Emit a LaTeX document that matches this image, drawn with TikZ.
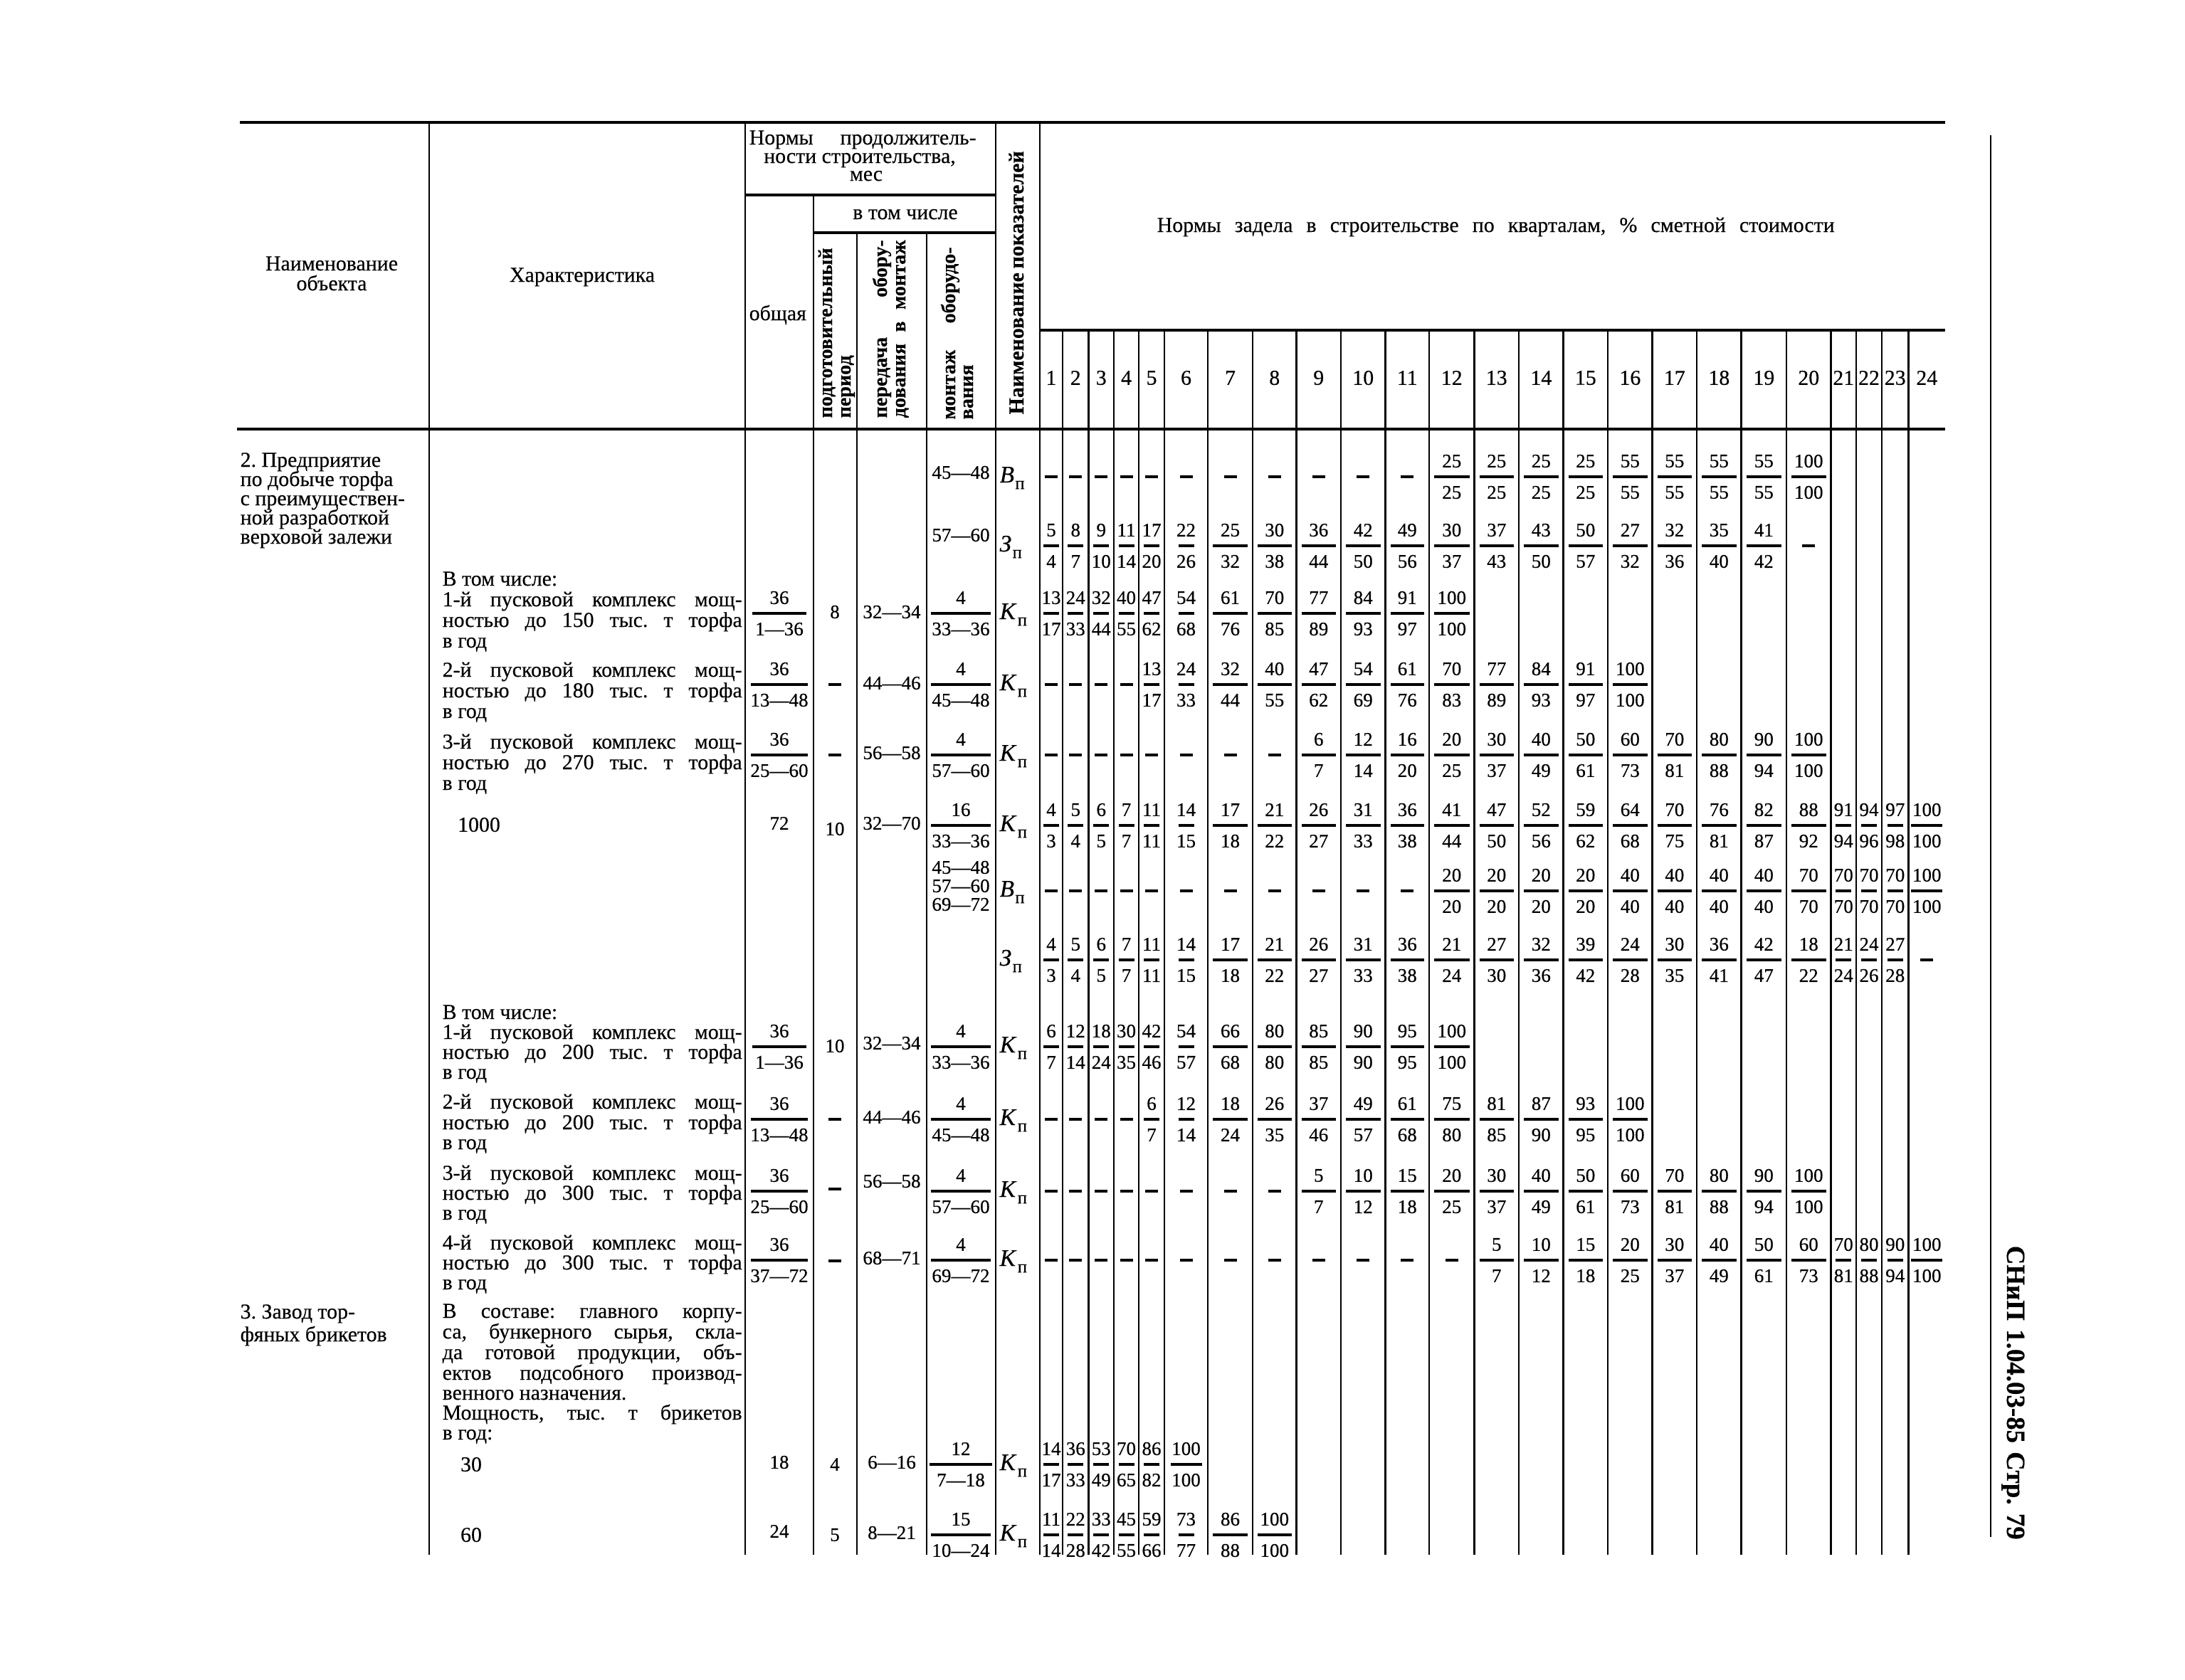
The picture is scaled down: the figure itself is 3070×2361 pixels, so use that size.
\documentclass[tikz,border=0pt]{standalone}
\usepackage{fontspec}
\setmainfont{Liberation Serif}[FakeBold=0.35]
\frenchspacing
\def\qb{{1461,1493,1529.5,1565,1600,1636,1697,1760,1821.5,1884,1946.5,2008,2071.5,2134,2196.6,2259,2321.6,2384,2446.6,2510,2572.5,2608,2644,2681.5,2733}}
\def\dm{-}
\newcommand\drow[3]{%
  \foreach \numv/\denv [count=\cc] in {#3} {%
    \pgfmathsetmacro\xl{\qb[\cc-1]}%
    \pgfmathsetmacro\xr{\qb[\cc]}%
    \pgfmathsetmacro\xm{(\xl+\xr)/2}%
    \pgfmathsetmacro\bw{ifthenelse(\cc<7 || (\cc>20 && \cc<24), 22, \xr-\xl-14)}%
    \ifx\numv\dm
      \draw[fbar] (\xm-9,#2) -- (\xm+9,#2);
    \else
      \pgfmathsetmacro\bw{max(\bw,ifthenelse(\numv==100,44,0))}%
      \node[num] (#1n\cc) at (\xm,#2-22) {\numv};
      \node[num] (#1d\cc) at (\xm,#2+22) {\denv};
      \draw[fbar] (\xm-\bw/2,#2) -- (\xm+\bw/2,#2);
    \fi
  }%
}
\newcommand\lfrac[6]{%
  \node[num] (#1n) at (#2,#3-22) {#4};
  \node[num] (#1d) at (#2,#3+22) {#5};
  \draw[fbar] (#2-#6,#3) -- (#2+#6,#3);
}
\newcommand\jl[5]{\node[txt] (#1) at (#2,#3) {\makebox[#4][s]{#5}};}
\newcommand\lab[3]{\node[inner sep=0pt,anchor=base west,font=\fontsize{9.5}{10}\selectfont] (#1) at (1404,#3+8) {\textit{#2}\kern0.4pt\raisebox{-0.6ex}{\fontsize{7}{8}\selectfont п}};}
\newcommand\pdash[2]{\draw[fbar] (1164,#2) -- (1182,#2);}
\begin{document}
\begin{tikzpicture}[x=0.1mm,y=-0.1mm,
  thickline/.style={line width=0.45mm},
  hline/.style={line width=0.32mm},
  vline/.style={line width=0.28mm},
  fbar/.style={line width=0.32mm},
  num/.style={inner sep=0pt,font=\fontsize{7.7}{8}\selectfont},
  hnum/.style={inner sep=0pt,font=\fontsize{8.5}{9}\selectfont},
  txt/.style={inner sep=0pt,anchor=base west,font=\fontsize{8.5}{9}\selectfont},
  ctxt/.style={inner sep=0pt,anchor=base,font=\fontsize{8.5}{9}\selectfont},
  rot/.style={inner sep=0pt,anchor=base west,rotate=90,font=\bfseries\fontsize{8}{9}\selectfont},
]
\fill[white] (0,0) rectangle (3070,2361);
\useasboundingbox (0,0) rectangle (3070,2361);

% ---------- rules ----------
\draw[thickline] (337,172) -- (2733,172);
\draw[hline] (1047,274) -- (1399,274);
\draw[hline] (1143,327) -- (1399,327);
\draw[hline] (1461,464) -- (2733,464);
\draw[thickline] (333,603) -- (2733,603);
\foreach \xx/\yy in {603/172, 1047/172, 1143/274, 1204/327, 1302/327, 1399/172, 1461/172}
  \draw[vline] (\xx,\yy) -- (\xx,2185);
\foreach \kk in {1,...,23} {
  \pgfmathsetmacro\xx{\qb[\kk]}
  \draw[vline] (\xx,464) -- (\xx,2185);
}
\draw[line width=0.25mm] (2797,190) -- (2797,2160);

% ---------- header ----------
\node[ctxt] (h1a) at (466,380) {Наименование};
\node[ctxt] (h1b) at (466,408) {объекта};
\node[ctxt] (h2) at (818,396) {Характеристика};
\jl{h3a}{1052}{203}{31.9mm}{Нормы продолжитель-}
\node[ctxt] (h3b) at (1208,229) {ности строительства,};
\node[ctxt] (h3c) at (1217,254) {мес};
\node[ctxt] (h4) at (1272,308) {в том числе};
\node[txt] (h5) at (1052,450) {общая};
\node[rot] (r1) at (1169,588) {подготовительный};
\node[rot] (r2) at (1195,588) {период};
\node[rot] (r3) at (1246,588) {\makebox[25mm][s]{передача обору-}};
\node[rot] (r4) at (1272,588) {\makebox[25mm][s]{дования в монтаж}};
\node[rot] (r5) at (1342,590) {\makebox[24.2mm][s]{монтаж оборудо-}};
\node[rot] (r6) at (1367,590) {вания};
\node[rot,font=\bfseries\fontsize{8.5}{9}\selectfont] (r7) at (1438,583) {\makebox[37mm][s]{Наименование показателей}};
\jl{h9}{1625}{326}{95.2mm}{Нормы задела в строительстве по кварталам, \% сметной стоимости}
\foreach \qq in {1,...,24} {
  \pgfmathsetmacro\xl{\qb[\qq-1]}
  \pgfmathsetmacro\xr{\qb[\qq]}
  \node[hnum] (q\qq) at ({(\xl+\xr)/2},531) {\qq};
}

% ---------- left texts ----------
\node[txt] (s2a) at (337,656) {2. Предприятие};
\node[txt] (s2b) at (337,683) {по добыче торфа};
\node[txt] (s2c) at (337,710) {с преимуществен-};
\node[txt] (s2d) at (337,737) {ной разработкой};
\node[txt] (s2e) at (337,764) {верховой залежи};

\node[txt] (t3a) at (621,823) {В том числе:};
\jl{t3b}{621}{852}{42.1mm}{1-й пусковой комплекс мощ-}
\jl{t3c}{621}{881}{42.1mm}{ностью до 150 тыс. т торфа}
\node[txt] (t3d) at (621,910) {в год};
\jl{t4a}{621}{951}{42.1mm}{2-й пусковой комплекс мощ-}
\jl{t4b}{621}{980}{42.1mm}{ностью до 180 тыс. т торфа}
\node[txt] (t4c) at (621,1009) {в год};
\jl{t5a}{621}{1052}{42.1mm}{3-й пусковой комплекс мощ-}
\jl{t5b}{621}{1081}{42.1mm}{ностью до 270 тыс. т торфа}
\node[txt] (t5c) at (621,1110) {в год};
\node[hnum] (t6) at (673,1159) {1000};
\node[txt] (t9a) at (621,1432) {В том числе:};
\jl{t9b}{621}{1460}{42.1mm}{1-й пусковой комплекс мощ-}
\jl{t9c}{621}{1488}{42.1mm}{ностью до 200 тыс. т торфа}
\node[txt] (t9d) at (621,1516) {в год};
\jl{t10a}{621}{1558}{42.1mm}{2-й пусковой комплекс мощ-}
\jl{t10b}{621}{1587}{42.1mm}{ностью до 200 тыс. т торфа}
\node[txt] (t10c) at (621,1615) {в год};
\jl{t11a}{621}{1658}{42.1mm}{3-й пусковой комплекс мощ-}
\jl{t11b}{621}{1686}{42.1mm}{ностью до 300 тыс. т торфа}
\node[txt] (t11c) at (621,1714) {в год};
\jl{t12a}{621}{1756}{42.1mm}{4-й пусковой комплекс мощ-}
\jl{t12b}{621}{1784}{42.1mm}{ностью до 300 тыс. т торфа}
\node[txt] (t12c) at (621,1812) {в год};

\node[txt] (s3a) at (337,1853) {3.\ Завод тор-};
\node[txt] (s3b) at (337,1885) {фяных брикетов};
\jl{t13a}{621}{1852}{42.1mm}{В составе: главного корпу-}
\jl{t13b}{621}{1881}{42.1mm}{са, бункерного сырья, скла-}
\jl{t13c}{621}{1910}{42.1mm}{да готовой продукции, объ-}
\jl{t13d}{621}{1939}{42.1mm}{ектов подсобного производ-}
\node[txt] (t13e) at (621,1967) {венного назначения.};
\jl{t13f}{621}{1995}{42.1mm}{Мощность, тыс. т брикетов}
\node[txt] (t13g) at (621,2023) {в год:};
\node[hnum] (t13) at (662,2058) {30};
\node[hnum] (t14) at (662,2157) {60};

% ---------- duration columns ----------
\node[num] (m1) at (1350,664) {45—48};
\node[num] (m2) at (1350,752) {57—60};
\lfrac{o3}{1095}{862}{36}{1—36}{38}
\node[num] (p3) at (1173,860) {8};
\node[num] (e3) at (1253,860) {32—34};
\lfrac{m3}{1350}{862}{4}{33—36}{42}
\lfrac{o4}{1095}{962}{36}{13—48}{40}
\pdash{p4}{962}
\node[num] (e4) at (1253,960) {44—46};
\lfrac{m4}{1350}{962}{4}{45—48}{42}
\lfrac{o5}{1095}{1061}{36}{25—60}{40}
\pdash{p5}{1061}
\node[num] (e5) at (1253,1058) {56—58};
\lfrac{m5}{1350}{1061}{4}{57—60}{42}
\node[num] (o6) at (1095,1157) {72};
\node[num] (p6) at (1173,1165) {10};
\node[num] (e6) at (1253,1157) {32—70};
\lfrac{m6}{1350}{1160}{16}{33—36}{42}
\node[num] (m7a) at (1350,1219) {45—48};
\node[num] (m7b) at (1350,1245) {57—60};
\node[num] (m7c) at (1350,1271) {69—72};
\lfrac{o9}{1095}{1471}{36}{1—36}{38}
\node[num] (p9) at (1173,1470) {10};
\node[num] (e9) at (1253,1466) {32—34};
\lfrac{m9}{1350}{1471}{4}{33—36}{42}
\lfrac{o10}{1095}{1573}{36}{13—48}{40}
\pdash{p10}{1573}
\node[num] (e10) at (1253,1570) {44—46};
\lfrac{m10}{1350}{1573}{4}{45—48}{42}
\lfrac{o11}{1095}{1674}{36}{25—60}{40}
\pdash{p11}{1671}
\node[num] (e11) at (1253,1660) {56—58};
\lfrac{m11}{1350}{1674}{4}{57—60}{42}
\lfrac{o12}{1095}{1771}{36}{37—72}{40}
\pdash{p12}{1772}
\node[num] (e12) at (1253,1768) {68—71};
\lfrac{m12}{1350}{1771}{4}{69—72}{42}
\node[num] (o13) at (1095,2055) {18};
\node[num] (p13) at (1173,2058) {4};
\node[num] (e13) at (1253,2055) {6—16};
\lfrac{m13}{1350}{2058}{12}{7—18}{44}
\node[num] (o14) at (1095,2152) {24};
\node[num] (p14) at (1173,2157) {5};
\node[num] (e14) at (1253,2154) {8—21};
\lfrac{m14}{1350}{2157}{15}{10—24}{42}

% ---------- indicator labels ----------
\lab{l1}{В}{670}
\lab{l2}{З}{767}
\lab{l3}{К}{862}
\lab{l4}{К}{962}
\lab{l5}{К}{1061}
\lab{l6}{К}{1160}
\lab{l7}{В}{1252}
\lab{l8}{З}{1349}
\lab{l9}{К}{1471}
\lab{l10}{К}{1573}
\lab{l11}{К}{1674}
\lab{l12}{К}{1771}
\lab{l13}{К}{2058}
\lab{l14}{К}{2157}

% ---------- quarterly data ----------
\drow{ra}{670}{-/-,-/-,-/-,-/-,-/-,-/-,-/-,-/-,-/-,-/-,-/-,25/25,25/25,25/25,25/25,55/55,55/55,55/55,55/55,100/100}
\drow{rb}{767}{5/4,8/7,9/10,11/14,17/20,22/26,25/32,30/38,36/44,42/50,49/56,30/37,37/43,43/50,50/57,27/32,32/36,35/40,41/42,-/-}
\drow{rc}{862}{13/17,24/33,32/44,40/55,47/62,54/68,61/76,70/85,77/89,84/93,91/97,100/100}
\drow{rd}{962}{-/-,-/-,-/-,-/-,13/17,24/33,32/44,40/55,47/62,54/69,61/76,70/83,77/89,84/93,91/97,100/100}
\drow{re}{1061}{-/-,-/-,-/-,-/-,-/-,-/-,-/-,-/-,6/7,12/14,16/20,20/25,30/37,40/49,50/61,60/73,70/81,80/88,90/94,100/100}
\drow{rf}{1160}{4/3,5/4,6/5,7/7,11/11,14/15,17/18,21/22,26/27,31/33,36/38,41/44,47/50,52/56,59/62,64/68,70/75,76/81,82/87,88/92,91/94,94/96,97/98,100/100}
\drow{rg}{1252}{-/-,-/-,-/-,-/-,-/-,-/-,-/-,-/-,-/-,-/-,-/-,20/20,20/20,20/20,20/20,40/40,40/40,40/40,40/40,70/70,70/70,70/70,70/70,100/100}
\drow{rh}{1349}{4/3,5/4,6/5,7/7,11/11,14/15,17/18,21/22,26/27,31/33,36/38,21/24,27/30,32/36,39/42,24/28,30/35,36/41,42/47,18/22,21/24,24/26,27/28,-/-}
\drow{ri}{1471}{6/7,12/14,18/24,30/35,42/46,54/57,66/68,80/80,85/85,90/90,95/95,100/100}
\drow{rj}{1573}{-/-,-/-,-/-,-/-,6/7,12/14,18/24,26/35,37/46,49/57,61/68,75/80,81/85,87/90,93/95,100/100}
\drow{rk}{1674}{-/-,-/-,-/-,-/-,-/-,-/-,-/-,-/-,5/7,10/12,15/18,20/25,30/37,40/49,50/61,60/73,70/81,80/88,90/94,100/100}
\drow{rl}{1771}{-/-,-/-,-/-,-/-,-/-,-/-,-/-,-/-,-/-,-/-,-/-,-/-,5/7,10/12,15/18,20/25,30/37,40/49,50/61,60/73,70/81,80/88,90/94,100/100}
\drow{rm}{2058}{14/17,36/33,53/49,70/65,86/82,100/100}
\drow{rn}{2157}{11/14,22/28,33/42,45/55,59/66,73/77,86/88,100/100}

% ---------- page running title ----------
\node[inner sep=0pt,anchor=base west,rotate=-90,font=\bfseries\fontsize{10.5}{12}\selectfont] (snip) at (2820,1750) {\makebox[41.3mm][s]{СНиП 1.04.03-85 Стр. 79}};
\end{tikzpicture}
\end{document}
